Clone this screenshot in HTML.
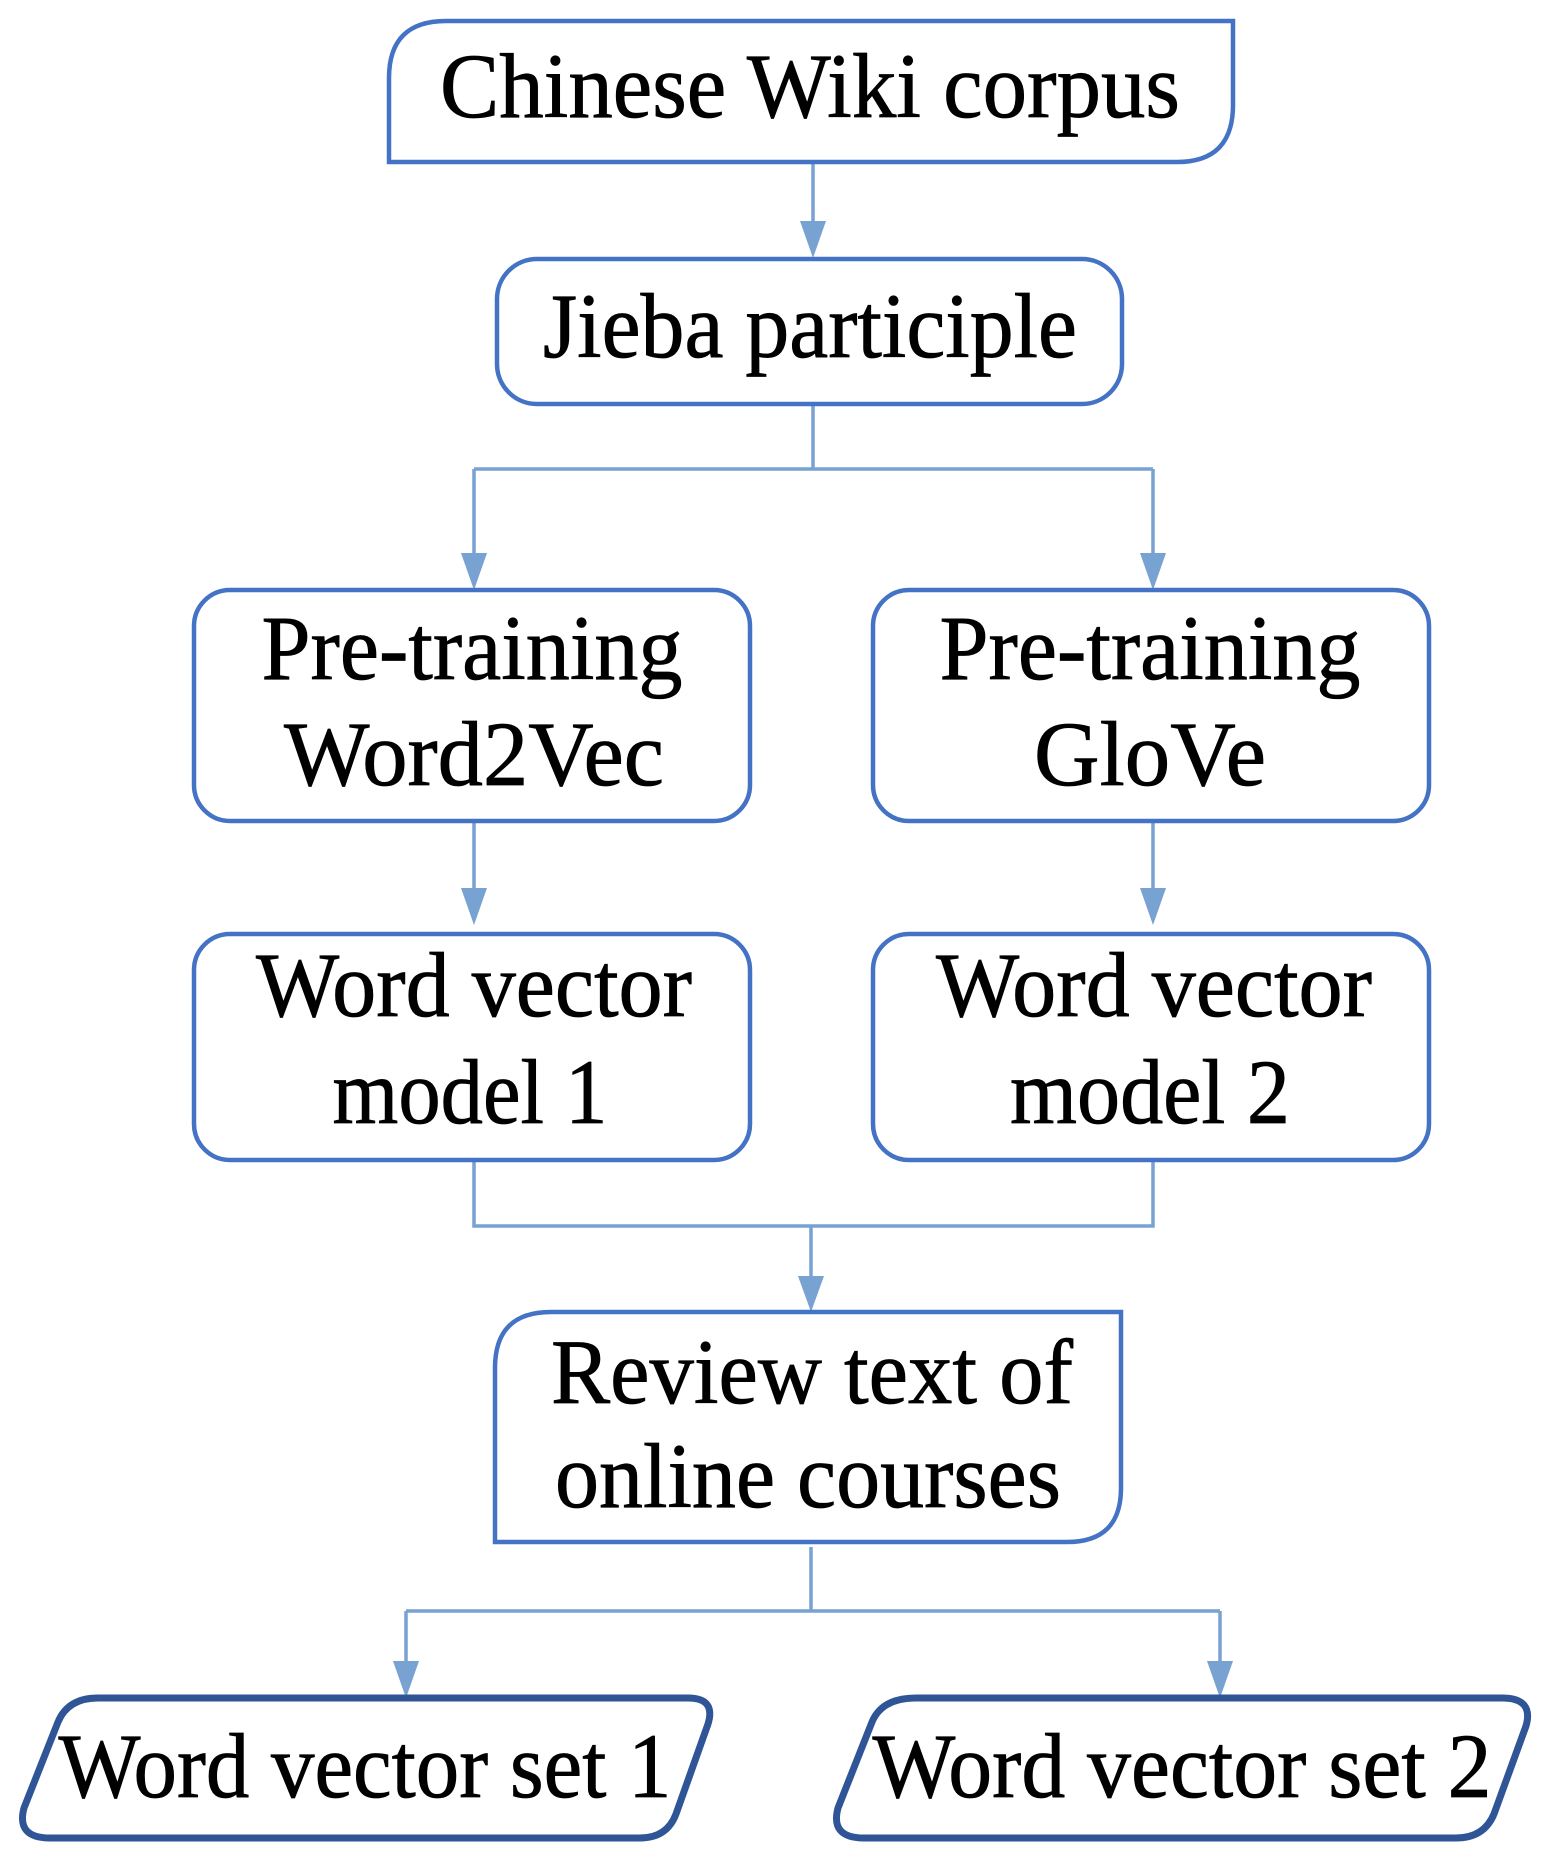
<!DOCTYPE html>
<html><head><meta charset="utf-8"><style>html,body{margin:0;padding:0;background:#fff}svg{display:block}</style></head>
<body>
<svg width="1542" height="1866" viewBox="0 0 1542 1866" xmlns="http://www.w3.org/2000/svg">
<g fill="none" stroke="#77a2d2" stroke-width="3.5">
<path d="M813 162 V225"/>
<path d="M813 405 V469 M474 469 H1153 M474 469 V555 M1153 469 V555"/>
<path d="M474 823 V890 M1153 823 V890"/>
<path d="M474 1162 V1226 H1153 V1162 M811 1226 V1280"/>
<path d="M811 1547 V1611 M406 1611 H1220 M406 1611 V1665 M1220 1611 V1665"/>
</g>
<g fill="#77a2d2">
<polygon points="800,221 826,221 813,258"/>
<polygon points="461,553 487,553 474,590"/>
<polygon points="1140,553 1166,553 1153,590"/>
<polygon points="461,888 487,888 474,925"/>
<polygon points="1140,888 1166,888 1153,925"/>
<polygon points="798,1276 824,1276 811,1312"/>
<polygon points="393,1661 419,1661 406,1698"/>
<polygon points="1207,1661 1233,1661 1220,1698"/>
</g>
<g fill="#fff" stroke="#4472c4" stroke-width="4.5">
<path d="M446 21 H1233 V105 Q1233 162 1177 162 H389 V78 Q389 21 446 21 Z"/>
<rect x="497" y="259" width="625" height="145" rx="40"/>
<rect x="194" y="590" width="556" height="231" rx="36"/>
<rect x="873" y="590" width="556" height="231" rx="36"/>
<rect x="194" y="934" width="556" height="226" rx="36"/>
<rect x="873" y="934" width="556" height="226" rx="36"/>
<path d="M551 1312 H1121 V1488 Q1121 1542 1067 1542 H495 V1368 Q495 1312 551 1312 Z"/>
</g>
<g fill="#fff" stroke="#2f5597" stroke-width="7">
<path d="M98 1698 H688 Q716 1698 708 1724 L676 1814 Q667 1838 640 1838 H50 Q16 1838 24 1808 L58 1722 Q68 1698 98 1698 Z"/>
<path d="M916 1698 H1502 Q1534 1698 1526 1726 L1494 1814 Q1484 1838 1456 1838 H864 Q830 1838 838 1808 L872 1722 Q882 1698 916 1698 Z"/>
</g>
<g font-family="Liberation Serif, serif" font-size="92" fill="#000" text-anchor="middle" stroke="#000" stroke-width="0.8">
<text x="810" y="117" textLength="740" lengthAdjust="spacingAndGlyphs">Chinese Wiki corpus</text>
<text x="810" y="357" textLength="534" lengthAdjust="spacingAndGlyphs">Jieba participle</text>
<text x="472" y="679" textLength="421" lengthAdjust="spacingAndGlyphs">Pre-training</text>
<text x="474" y="785" textLength="380" lengthAdjust="spacingAndGlyphs">Word2Vec</text>
<text x="1150" y="679" textLength="421" lengthAdjust="spacingAndGlyphs">Pre-training</text>
<text x="1150" y="785" textLength="232" lengthAdjust="spacingAndGlyphs">GloVe</text>
<text x="474" y="1016" textLength="436" lengthAdjust="spacingAndGlyphs">Word vector</text>
<text x="470" y="1123" textLength="275" lengthAdjust="spacingAndGlyphs">model 1</text>
<text x="1154" y="1016" textLength="436" lengthAdjust="spacingAndGlyphs">Word vector</text>
<text x="1150" y="1123" textLength="280" lengthAdjust="spacingAndGlyphs">model 2</text>
<text x="812" y="1403" textLength="522" lengthAdjust="spacingAndGlyphs">Review text of</text>
<text x="808" y="1507" textLength="506" lengthAdjust="spacingAndGlyphs">online courses</text>
<text x="365" y="1797" textLength="613" lengthAdjust="spacingAndGlyphs">Word vector set 1</text>
<text x="1182" y="1797" textLength="619" lengthAdjust="spacingAndGlyphs">Word vector set 2</text>
</g>
</svg>
</body></html>
